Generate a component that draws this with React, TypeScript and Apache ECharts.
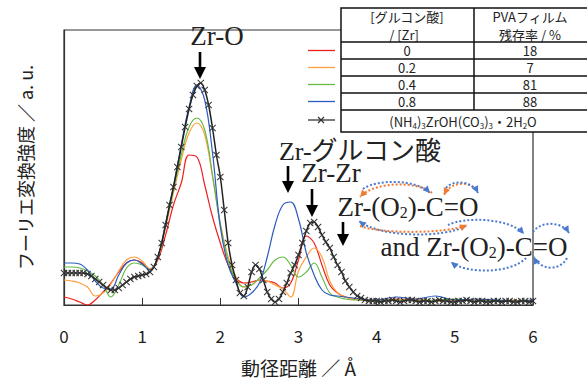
import React, { useEffect, useRef } from "react";
import * as echarts from "echarts";

// radial distance grid (Å) for the reference compound (dense markers)
const rFine = [
  0, 0.05, 0.1, 0.15, 0.2, 0.25, 0.3, 0.35, 0.4, 0.45, 0.5, 0.55, 0.6, 0.65, 0.7, 0.75, 0.8, 0.85, 0.9, 0.95,
  1.0, 1.05, 1.1, 1.15, 1.2, 1.25, 1.3, 1.35, 1.4, 1.45, 1.5, 1.55, 1.6, 1.65, 1.7, 1.75, 1.8, 1.85, 1.9, 1.95,
  2.0, 2.05, 2.1, 2.15, 2.2, 2.25, 2.3, 2.35, 2.4, 2.45, 2.5, 2.55, 2.6, 2.65, 2.7, 2.75, 2.8, 2.85, 2.9, 2.95,
  3.0, 3.05, 3.1, 3.15, 3.2, 3.25, 3.3, 3.35, 3.4, 3.45, 3.5, 3.55, 3.6, 3.65, 3.7, 3.75, 3.8, 3.85, 3.9, 3.95,
  4.0, 4.05, 4.1, 4.15, 4.2, 4.25, 4.3, 4.35, 4.4, 4.45, 4.5, 4.55, 4.6, 4.65, 4.7, 4.75, 4.8, 4.85, 4.9, 4.95,
  5.0, 5.05, 5.1, 5.15, 5.2, 5.25, 5.3, 5.35, 5.4, 5.45, 5.5, 5.55, 5.6, 5.65, 5.7, 5.75, 5.8, 5.85, 5.9, 5.95,
  6.0,
];
const refCompound = [
  32, 32, 32, 32, 32, 32, 31, 29, 26, 23, 20, 17, 15, 15, 17, 20, 23, 26, 28, 29,
  30, 31, 33, 38, 48, 62, 80, 100, 118, 138, 158, 178, 196, 210, 219, 222, 215, 200, 177, 150,
  128, 95, 62, 40, 25, 12, 9, 18, 33, 40, 36, 25, 13, 6, 3, 6, 13, 22, 32, 40,
  50, 62, 74, 82, 83, 78, 70, 63, 57, 48, 40, 33, 24, 18, 13, 9, 7, 5, 4, 4,
  4, 3, 4, 4, 5, 4, 3, 4, 5, 5, 4, 3, 4, 4, 3, 4, 5, 4, 4, 3,
  3, 4, 4, 5, 4, 3, 4, 4, 3, 3, 4, 4, 3, 4, 4, 3, 3, 4, 4, 3,
  4,
];

// radial distance grid (Å) for the film samples
const rCoarse = [
  0, 0.1, 0.2, 0.3, 0.4, 0.5, 0.6, 0.7, 0.8, 0.9,
  1.0, 1.1, 1.2, 1.3, 1.4, 1.5, 1.6, 1.7, 1.8, 1.9,
  2.0, 2.1, 2.2, 2.3, 2.4, 2.5, 2.6, 2.7, 2.8, 2.9,
  3.0, 3.1, 3.2, 3.3, 3.4, 3.5, 3.6, 3.7, 3.8, 3.9,
  4.0, 4.25, 4.5, 4.75, 5.0, 5.25, 5.5, 5.75, 6.0,
];
const ratio0 = [
  8, 6, 3, 0, 5, 13, 22, 33, 42, 45,
  42, 36, 45, 70, 100, 122, 150, 148, 120, 88,
  62, 40, 27, 22, 23, 25, 24, 22, 17, 22,
  45, 69, 62, 40, 20, 12, 8, 6, 5, 5,
  5, 6, 5, 4, 5, 5, 4, 4, 5,
];
const ratio02 = [
  25, 24, 22, 18, 9, 12, 21, 34, 45, 48,
  44, 36, 47, 78, 112, 145, 172, 182, 170, 128,
  82, 48, 28, 18, 20, 25, 24, 20, 16, 8,
  34, 48, 57, 48, 24, 12, 8, 6, 5, 5,
  5, 5, 6, 4, 5, 5, 4, 5, 4,
];
const ratio04 = [
  38, 38, 37, 34, 29, 20, 8, 20, 37, 42,
  40, 35, 48, 80, 115, 150, 178, 187, 175, 130,
  80, 45, 25, 18, 20, 27, 35, 45, 48, 40,
  28, 33, 42, 28, 12, 8, 6, 5, 5, 5,
  5, 5, 4, 5, 6, 4, 5, 4, 5,
];
const ratio08 = [
  42, 42, 41, 35, 24, 17, 16, 30, 42, 45,
  41, 35, 48, 82, 118, 160, 198, 220, 205, 152,
  78, 40, 22, 8, 12, 22, 48, 80, 100, 103,
  86, 52, 30, 15, 10, 9, 8, 7, 6, 5,
  5, 8, 6, 9, 5, 6, 5, 4, 5,
];

const xTicks = [0, 1, 2, 3, 4, 5, 6];
const ratioLabels = ["0", "0.2", "0.4", "0.8"];
const survivalLabels = ["18", "7", "81", "88"];
const sampleSeries = [ratio0, ratio02, ratio04, ratio08];
const sampleColors = ["#f02020", "#ffa040", "#66bb44", "#2a5cc0"];

const SERIF = "'Liberation Serif', 'Times New Roman', 'Noto Sans CJK JP', serif";
const JP = "'Noto Sans CJK JP', sans-serif";
const CROSS = "path://M0,1L1,0L5,4L9,0L10,1L6,5L10,9L9,10L5,6L1,10L0,9L4,5Z";

function txt(text: string, x: number, y: number, size: number, family: string, extra: any = {}) {
  return {
    type: "text",
    x,
    y,
    z: 100,
    style: {
      text,
      fontSize: size,
      fontFamily: family,
      fill: "#222",
      align: "center",
      verticalAlign: "middle",
      lineHeight: Math.round(size * 0.95),
      ...extra,
    },
  };
}

function downArrow(x: number, y1: number, y2: number) {
  return [
    { type: "line", z: 100, shape: { x1: x, y1, x2: x, y2: y2 - 10 }, style: { stroke: "#000", lineWidth: 2.6 } },
    { type: "polygon", z: 100, shape: { points: [[x - 6, y2 - 12], [x + 6, y2 - 12], [x, y2]] }, style: { fill: "#000" } },
  ];
}

function dotArc(x1: number, y1: number, x2: number, y2: number, cy: number, color: string) {
  const c1x = x1 + (x2 - x1) * 0.2;
  const c2x = x1 + (x2 - x1) * 0.8;
  let dx = x2 - c2x;
  let dy = y2 - cy;
  const len = Math.sqrt(dx * dx + dy * dy) || 1;
  dx /= len;
  dy /= len;
  const bx = x2 - dx * 7;
  const by = y2 - dy * 7;
  const px = -dy * 3.5;
  const py = dx * 3.5;
  return [
    {
      type: "bezierCurve",
      z: 100,
      shape: { x1, y1, x2, y2, cpx1: c1x, cpy1: cy, cpx2: c2x, cpy2: cy },
      style: { stroke: color, lineWidth: 2, lineDash: [2, 2], fill: null },
    },
    {
      type: "polygon",
      z: 100,
      shape: { points: [[x2, y2], [bx + px, by + py], [bx - px, by - py]] },
      style: { fill: color },
    },
  ];
}

export default function App() {
  const ref = useRef<HTMLDivElement>(null);

  useEffect(() => {
    if (!ref.current) return;
    const chart = echarts.init(ref.current, null, { renderer: "svg" });

    const BLUE = "#4a7ad0";
    const ORANGE = "#f07a30";

    const tableX = 341;
    const tableMid = 474;
    const rowLines = [42, 59, 76, 93, 110];
    const rowCenters = [50.5, 67.5, 84.5, 101.5];
    const legendY = [50.5, 67.5, 84.5, 101.5, 120];

    const graphics: any[] = [];
    // table
    graphics.push({
      type: "rect",
      z: 90,
      shape: { x: tableX, y: 8, width: 270, height: 124 },
      style: { fill: "#fff", stroke: "#111", lineWidth: 1.5 },
    });
    rowLines.forEach((y) =>
      graphics.push({ type: "line", z: 95, shape: { x1: tableX, y1: y, x2: 590, y2: y }, style: { stroke: "#111", lineWidth: 1.5 } })
    );
    graphics.push({ type: "line", z: 95, shape: { x1: tableMid, y1: 8, x2: tableMid, y2: 110 }, style: { stroke: "#111", lineWidth: 1.5 } });
    graphics.push(txt("[グルコン酸]", 407, 16, 13, JP, { lineHeight: 13 }));
    graphics.push(txt("/ [Zr]", 404, 34.5, 13, JP, { lineHeight: 13 }));
    graphics.push(txt("PVAフィルム", 530, 16, 13, JP, { lineHeight: 13 }));
    graphics.push(txt("残存率 / %", 530, 34.5, 13, JP, { lineHeight: 13 }));
    ratioLabels.forEach((t, i) => graphics.push(txt(t, 407, rowCenters[i], 13, JP, { lineHeight: 13 })));
    survivalLabels.forEach((t, i) => graphics.push(txt(t, 530, rowCenters[i], 13, JP, { lineHeight: 13 })));
    graphics.push(
      txt("(NH{s|4}){s|3}ZrOH(CO{s|3}){s|3}・2H{s|2}O", 463, 121, 13, JP, {
        rich: { s: { fontSize: 8, fontFamily: JP, fill: "#222", verticalAlign: "bottom", lineHeight: 8 } },
        lineHeight: 16,
      })
    );
    // legend swatches
    sampleColors.forEach((c, i) =>
      graphics.push({ type: "line", z: 95, shape: { x1: 308, y1: legendY[i], x2: 335, y2: legendY[i] }, style: { stroke: c, lineWidth: 1.3 } })
    );
    graphics.push({ type: "line", z: 95, shape: { x1: 308, y1: 120, x2: 335, y2: 120 }, style: { stroke: "#333", lineWidth: 1.3 } });
    graphics.push({ type: "line", z: 95, shape: { x1: 318, y1: 117, x2: 324, y2: 123 }, style: { stroke: "#333", lineWidth: 1.3 } });
    graphics.push({ type: "line", z: 95, shape: { x1: 318, y1: 123, x2: 324, y2: 117 }, style: { stroke: "#333", lineWidth: 1.3 } });

    // annotations
    const subRich = { s: { fontSize: 16, fontFamily: SERIF, fill: "#222", verticalAlign: "bottom", lineHeight: 16 } };
    graphics.push(txt("Zr-O", 217, 36, 27, SERIF));
    graphics.push(...downArrow(200, 52, 79));
    graphics.push(txt("Zr-グルコン酸", 360, 151, 26, SERIF, { lineHeight: 19 }));
    graphics.push(...downArrow(288, 166, 193));
    graphics.push(txt("Zr-Zr", 331, 173, 27, SERIF, { lineHeight: 19 }));
    graphics.push(...downArrow(312, 189, 217));
    graphics.push(txt("Zr-(O{s|2})-C=O", 408, 207, 27, SERIF, { rich: subRich, lineHeight: 26 }));
    graphics.push(...downArrow(343, 222, 246));
    graphics.push(txt("and Zr-(O{s|2})-C=O", 474, 247, 27, SERIF, { rich: subRich, lineHeight: 26 }));
    // dotted curved arrows
    graphics.push(...dotArc(432, 193, 360, 197, 181, ORANGE));
    graphics.push(...dotArc(363, 189, 430, 193, 179, BLUE));
    graphics.push(...dotArc(476, 190, 444, 195, 181, ORANGE));
    graphics.push(...dotArc(446, 188, 478, 193, 180, BLUE));
    graphics.push(...dotArc(466, 226, 359, 221, 238, BLUE));
    graphics.push(...dotArc(360, 226, 467, 225, 234, ORANGE));
    graphics.push(...dotArc(448, 225, 524, 234, 217, BLUE));
    graphics.push(...dotArc(533, 232, 569, 233, 221, BLUE));
    graphics.push(...dotArc(526, 258, 451, 262, 274, BLUE));
    graphics.push(...dotArc(567, 258, 534, 257, 271, BLUE));

    const series: any[] = sampleSeries.map((vals, i) => ({
      type: "line",
      name: ratioLabels[i],
      data: rCoarse.map((r, j) => [r, vals[j]]),
      smooth: 0.4,
      showSymbol: false,
      lineStyle: { color: sampleColors[i], width: 1.2 },
      z: 2 + i,
    }));
    series.push({
      type: "line",
      name: "ref",
      data: rFine.map((r, j) => [r, refCompound[j]]),
      smooth: 0.3,
      symbol: CROSS,
      symbolSize: 7,
      showSymbol: true,
      showAllSymbol: true,
      itemStyle: { color: "#333" },
      lineStyle: { color: "#222", width: 1.5 },
      z: 10,
    });

    chart.setOption({
      animation: false,
      backgroundColor: "#fff",
      grid: { left: 64, right: 54, top: 30, bottom: 80, show: true, borderColor: "#333", borderWidth: 1.2 },
      xAxis: {
        type: "value",
        min: xTicks[0],
        max: xTicks[xTicks.length - 1],
        interval: 1,
        name: "動径距離 ／ Å",
        nameLocation: "middle",
        nameGap: 53,
        nameTextStyle: { fontSize: 19, fontFamily: JP, color: "#222" },
        axisLine: { lineStyle: { color: "#333", width: 1.2 } },
        axisTick: { inside: true, length: 7, lineStyle: { color: "#333" } },
        axisLabel: { fontSize: 17, fontFamily: JP, color: "#222", margin: 22 },
        splitLine: { show: false },
      },
      yAxis: {
        type: "value",
        min: 0,
        max: 275,
        name: "フーリエ変換強度 ／ a. u.",
        nameLocation: "middle",
        nameGap: 30,
        nameTextStyle: { fontSize: 18, fontFamily: JP, color: "#222" },
        axisLine: { show: true, lineStyle: { color: "#333", width: 1.2 } },
        axisTick: { show: false },
        axisLabel: { show: false },
        splitLine: { show: false },
      },
      series,
      graphic: graphics,
    });

    return () => chart.dispose();
  }, []);

  return <div ref={ref} style={{ position: "fixed", left: 0, top: 0, width: 587, height: 385 }} />;
}
